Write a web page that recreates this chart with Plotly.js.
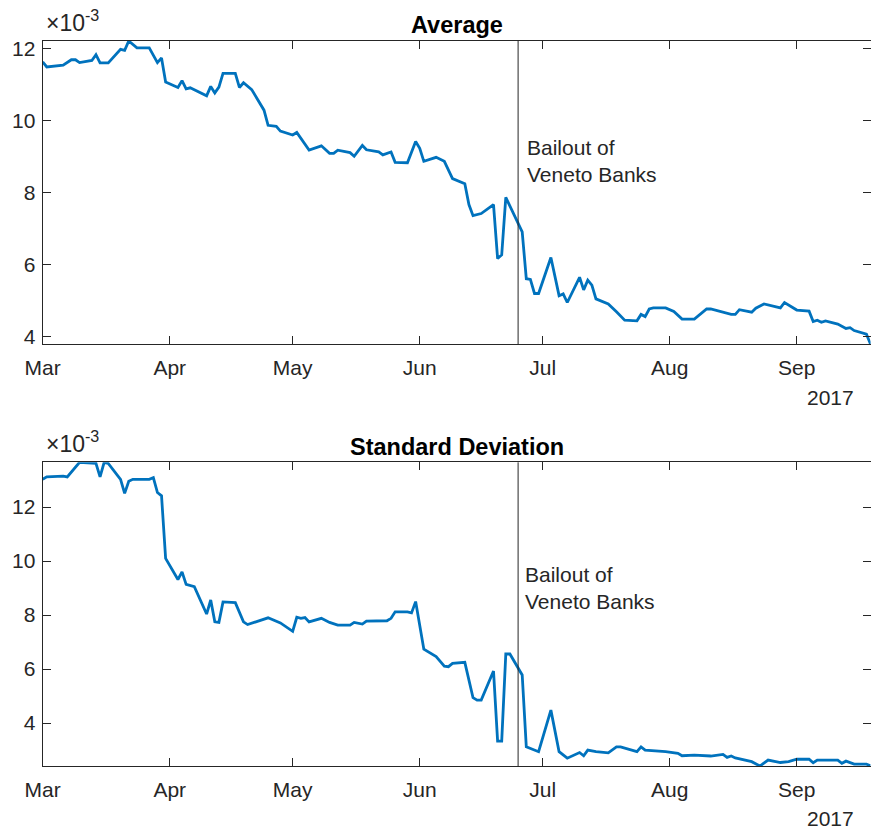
<!DOCTYPE html>
<html>
<head>
<meta charset="utf-8">
<script src="https://cdn.plot.ly/plotly-3.0.1.min.js"></script>
<style>
  html, body { margin: 0; padding: 0; background: #fff; }
  #chart { width: 871px; height: 830px; }
</style>
</head>
<body>
<div id="chart"></div>
<script>
// Average (×10^-3)
const avgDates = ['2017-03-01','2017-03-02','2017-03-06','2017-03-08','2017-03-09','2017-03-10','2017-03-13','2017-03-14','2017-03-15','2017-03-17',
  '2017-03-20','2017-03-21','2017-03-22','2017-03-24','2017-03-27','2017-03-29','2017-03-30','2017-03-31',
  '2017-04-03','2017-04-04','2017-04-05','2017-04-06','2017-04-10','2017-04-11','2017-04-12','2017-04-13','2017-04-14','2017-04-17','2017-04-18','2017-04-19','2017-04-21','2017-04-24','2017-04-25','2017-04-27','2017-04-28',
  '2017-05-01','2017-05-02','2017-05-05','2017-05-08','2017-05-10','2017-05-11','2017-05-12','2017-05-15','2017-05-16','2017-05-18','2017-05-19','2017-05-22','2017-05-23','2017-05-25','2017-05-26','2017-05-29','2017-05-31',
  '2017-06-01','2017-06-02','2017-06-05','2017-06-07','2017-06-09','2017-06-12','2017-06-13','2017-06-14','2017-06-16','2017-06-19','2017-06-20','2017-06-21','2017-06-22','2017-06-26','2017-06-27','2017-06-28','2017-06-29','2017-06-30',
  '2017-07-03','2017-07-05','2017-07-06','2017-07-07','2017-07-10','2017-07-11','2017-07-12','2017-07-13','2017-07-14','2017-07-17','2017-07-19','2017-07-21','2017-07-24','2017-07-25','2017-07-26','2017-07-27','2017-07-28','2017-07-31',
  '2017-08-02','2017-08-04','2017-08-07','2017-08-10','2017-08-11','2017-08-14','2017-08-16','2017-08-17','2017-08-18','2017-08-21','2017-08-22','2017-08-24','2017-08-28','2017-08-29','2017-08-30',
  '2017-09-01','2017-09-04','2017-09-05','2017-09-06','2017-09-07','2017-09-08','2017-09-11','2017-09-13','2017-09-14','2017-09-15','2017-09-18','2017-09-19'];
const avgValues = [11.63,11.49,11.54,11.69,11.69,11.61,11.67,11.83,11.60,11.60,
  11.98,11.95,12.21,12.02,12.02,11.61,11.74,11.07,
  10.92,11.11,10.88,10.91,10.69,10.95,10.77,10.93,11.31,11.31,10.92,11.05,10.86,10.29,9.87,9.84,9.71,
  9.60,9.67,9.18,9.30,9.09,9.09,9.18,9.11,9.01,9.31,9.19,9.13,9.05,9.13,8.84,8.83,9.42,
  9.23,8.87,8.98,8.87,8.39,8.25,7.67,7.36,7.42,7.67,6.17,6.27,7.87,6.91,5.61,5.59,5.20,5.20,
  6.20,5.14,5.19,4.95,5.65,5.30,5.57,5.43,5.05,4.91,4.69,4.46,4.44,4.62,4.56,4.77,4.80,4.80,
  4.70,4.49,4.49,4.77,4.77,4.68,4.62,4.62,4.75,4.68,4.79,4.91,4.80,4.95,4.88,
  4.74,4.71,4.42,4.46,4.40,4.44,4.35,4.23,4.25,4.17,4.07,3.79];

// Standard deviation (×10^-3)
const sdDates = ['2017-03-01','2017-03-02','2017-03-06','2017-03-07','2017-03-10','2017-03-14','2017-03-15','2017-03-16','2017-03-17',
  '2017-03-20','2017-03-21','2017-03-22','2017-03-23','2017-03-27','2017-03-28','2017-03-29','2017-03-30','2017-03-31',
  '2017-04-03','2017-04-04','2017-04-05','2017-04-07','2017-04-10','2017-04-11','2017-04-12','2017-04-13','2017-04-14','2017-04-17','2017-04-19','2017-04-20','2017-04-25','2017-04-28',
  '2017-05-01','2017-05-02','2017-05-03','2017-05-04','2017-05-05','2017-05-08','2017-05-10','2017-05-12','2017-05-15','2017-05-16','2017-05-18','2017-05-19','2017-05-24','2017-05-25','2017-05-26','2017-05-29','2017-05-30','2017-05-31',
  '2017-06-02','2017-06-05','2017-06-07','2017-06-08','2017-06-09','2017-06-12','2017-06-14','2017-06-15','2017-06-16','2017-06-19','2017-06-20','2017-06-21','2017-06-22','2017-06-23','2017-06-26','2017-06-27','2017-06-30',
  '2017-07-03','2017-07-05','2017-07-07','2017-07-10','2017-07-11','2017-07-12','2017-07-14','2017-07-17','2017-07-19','2017-07-20','2017-07-24','2017-07-25','2017-07-26','2017-07-31',
  '2017-08-02','2017-08-03','2017-08-04','2017-08-07','2017-08-11','2017-08-14','2017-08-15','2017-08-16','2017-08-17','2017-08-18','2017-08-21','2017-08-23','2017-08-25','2017-08-28','2017-08-30',
  '2017-09-01','2017-09-04','2017-09-05','2017-09-06','2017-09-11','2017-09-12','2017-09-13','2017-09-15','2017-09-18','2017-09-19'];
const sdValues = [13.03,13.12,13.15,13.12,13.66,13.62,13.12,13.66,13.62,
  13.03,12.51,12.96,13.03,13.03,13.09,12.54,12.42,10.10,
  9.32,9.60,9.14,9.05,8.04,8.56,7.75,7.73,8.49,8.46,7.75,7.65,7.90,7.71,
  7.40,7.92,7.88,7.91,7.75,7.88,7.73,7.63,7.63,7.73,7.67,7.78,7.79,7.88,8.12,8.12,8.08,8.50,
  6.74,6.46,6.11,6.09,6.21,6.25,4.94,4.85,4.85,5.93,3.33,3.33,6.56,6.56,5.78,3.12,2.94,
  4.48,2.94,2.70,2.91,2.79,3.00,2.94,2.90,3.12,3.12,2.94,3.12,3.00,2.94,
  2.90,2.88,2.79,2.81,2.78,2.84,2.73,2.78,2.71,2.67,2.57,2.41,2.63,2.54,2.57,
  2.66,2.66,2.53,2.63,2.63,2.51,2.59,2.48,2.48,2.42];

const tickDates = ['2017-03-01','2017-04-01','2017-05-01','2017-06-01','2017-07-01','2017-08-01','2017-09-01'];
const tickNames = ['Mar','Apr','May','Jun','Jul','Aug','Sep'];
const yTicks = [4,6,8,10,12];
const bailoutDate = '2017-06-25';
const xRange = ['2017-03-01','2017-09-19'];

const FONT = 'Liberation Sans, Arial, Helvetica, sans-serif';
const AX = '#262626';
const BLUE = '#0072BD';

function xaxis(anchor){
  return {
    type:'date', range:xRange, anchor:anchor, domain:[0.049,0.9995],
    tickvals:tickDates, ticktext:tickNames,
    ticks:'inside', ticklen:8, tickwidth:1, tickcolor:AX,
    showline:true, linecolor:AX, linewidth:1, mirror:'ticks',
    showgrid:false, zeroline:false, ticklabelstandoff:5,
    tickfont:{family:FONT, size:21, color:AX}
  };
}
function yaxis(anchor, range, domain){
  return {
    range:range, anchor:anchor, domain:domain,
    tickvals:yTicks, ticktext:yTicks.map(String),
    ticks:'inside', ticklen:8, tickwidth:1, tickcolor:AX,
    showline:true, linecolor:AX, linewidth:1, mirror:'ticks',
    showgrid:false, zeroline:false, ticklabelstandoff:2,
    tickfont:{family:FONT, size:21, color:AX}
  };
}

const traces = [
  {x:avgDates, y:avgValues, type:'scatter', mode:'lines', xaxis:'x', yaxis:'y',
   line:{color:BLUE, width:2.8}, hoverinfo:'x+y'},
  {x:sdDates, y:sdValues, type:'scatter', mode:'lines', xaxis:'x2', yaxis:'y2',
   line:{color:BLUE, width:2.8}, hoverinfo:'x+y'}
];

const textFont = {family:FONT, size:21, color:AX};
const layout = {
  width:871, height:830,
  margin:{l:0, r:0, t:0, b:0},
  paper_bgcolor:'#fff', plot_bgcolor:'#fff',
  showlegend:false,
  xaxis: xaxis('y'),
  yaxis: yaxis('x', [3.79,12.21], [0.5852,0.9506]),
  xaxis2: xaxis('y2'),
  yaxis2: yaxis('x2', [2.41,13.66], [0.0771,0.4430]),
  shapes:[
    {type:'line', xref:'x', yref:'y domain', x0:bailoutDate, x1:bailoutDate, y0:0, y1:1, line:{color:AX, width:1}},
    {type:'line', xref:'x2', yref:'y2 domain', x0:bailoutDate, x1:bailoutDate, y0:0, y1:1, line:{color:AX, width:1}}
  ],
  annotations:[
    {text:'<b>Average</b>', xref:'paper', yref:'paper', x:0.525, y:1-25/830, xanchor:'center', yanchor:'middle', showarrow:false, font:{family:FONT, size:23.5, color:'#000'}},
    {text:'<b>Standard Deviation</b>', xref:'paper', yref:'paper', x:0.525, y:1-447/830, xanchor:'center', yanchor:'middle', showarrow:false, font:{family:FONT, size:23.5, color:'#000'}},
    {text:'×10<sup>-3</sup>', xref:'paper', yref:'paper', x:44/871, y:1-38/830, xanchor:'left', yanchor:'bottom', showarrow:false, font:{family:FONT, size:23, color:AX}},
    {text:'×10<sup>-3</sup>', xref:'paper', yref:'paper', x:44/871, y:1-459/830, xanchor:'left', yanchor:'bottom', showarrow:false, font:{family:FONT, size:23, color:AX}},
    {text:'2017', xref:'paper', yref:'paper', x:856/871, y:1-398/830, xanchor:'right', yanchor:'middle', showarrow:false, font:textFont},
    {text:'2017', xref:'paper', yref:'paper', x:856/871, y:1-818/830, xanchor:'right', yanchor:'middle', showarrow:false, font:textFont},
    {text:'Bailout of<br>Veneto Banks', xref:'paper', yref:'paper', x:525/871, y:1-161/830, xanchor:'left', yanchor:'middle', align:'left', showarrow:false, font:textFont},
    {text:'Bailout of<br>Veneto Banks', xref:'paper', yref:'paper', x:523/871, y:1-588/830, xanchor:'left', yanchor:'middle', align:'left', showarrow:false, font:textFont}
  ]
};

Plotly.newPlot('chart', traces, layout, {displayModeBar:false, staticPlot:true});
</script>
</body>
</html>
